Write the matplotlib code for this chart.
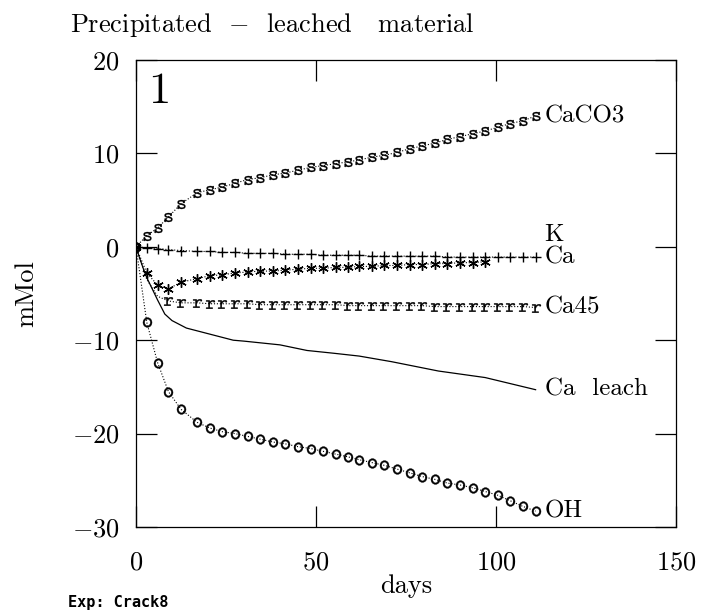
import numpy as np
import matplotlib
matplotlib.use('Agg')
import matplotlib.pyplot as plt

plt.rcParams['font.family'] = 'serif'
plt.rcParams['font.serif'] = ['cmr10']
plt.rcParams['mathtext.fontset'] = 'cm'
plt.rcParams['axes.formatter.use_mathtext'] = True

# sampling days shared by the marker series
days = [0, 3, 6, 9, 12.5, 17, 20.5, 24, 27.5, 31, 34.5, 38, 41.5, 45, 48.5,
        52, 55.5, 59, 62, 65.5, 69, 72.5, 76, 79.5, 83, 86.5, 90, 93.5, 97,
        100.5, 104, 107.5, 111]

caco3 = [0, 1.2, 2.0, 3.2, 4.6, 5.8, 6.1, 6.4, 6.8, 7.2, 7.4, 7.7, 7.9, 8.2,
         8.5, 8.7, 8.9, 9.1, 9.3, 9.6, 9.8, 10.1, 10.5, 10.8, 11.1, 11.5,
         11.8, 12.1, 12.4, 12.8, 13.2, 13.5, 14.0]

ca_plus = [0, -0.1, -0.2, -0.3, -0.4, -0.5, -0.5, -0.6, -0.6, -0.7, -0.7,
           -0.7, -0.8, -0.8, -0.8, -0.9, -0.9, -0.9, -0.9, -1.0, -1.0, -1.0,
           -1.0, -1.0, -1.0, -1.1, -1.1, -1.1, -1.1, -1.1, -1.1, -1.1, -1.1]

k_star = [0, -2.8, -4.1, -4.5, -3.8, -3.4, -3.1, -3.0, -2.8, -2.7, -2.6,
          -2.6, -2.5, -2.4, -2.3, -2.3, -2.2, -2.2, -2.1, -2.1, -2.0, -2.0,
          -1.9, -1.9, -1.8, -1.8, -1.7, -1.7, -1.6]

ca45 = [0, -3.5, -5.3, -5.8, -6.0, -6.0, -6.1, -6.1, -6.1, -6.1, -6.2, -6.2,
        -6.2, -6.2, -6.2, -6.2, -6.2, -6.3, -6.3, -6.3, -6.3, -6.3, -6.3,
        -6.3, -6.4, -6.4, -6.4, -6.4, -6.4, -6.4, -6.4, -6.4, -6.5]

oh = [0, -8.1, -12.4, -15.5, -17.4, -18.8, -19.4, -19.8, -20.0, -20.3, -20.6,
      -20.9, -21.1, -21.4, -21.6, -21.9, -22.2, -22.5, -22.8, -23.1, -23.4,
      -23.8, -24.2, -24.6, -24.9, -25.3, -25.5, -25.8, -26.2, -26.6, -27.2,
      -27.8, -28.3]

leach_days = [0, 1, 2, 3, 4, 5, 6, 8, 10, 14, 20, 27, 30, 40, 47.5, 55, 62,
              71, 84, 97, 111]
ca_leach = [0, -1.2, -2.3, -3.3, -4.1, -4.9, -5.7, -7.2, -7.9, -8.7, -9.3,
            -10.0, -10.1, -10.5, -11.1, -11.4, -11.7, -12.3, -13.3, -14.0,
            -15.3]

x_ticks = [0, 50, 100, 150]
y_ticks = [-30, -20, -10, 0, 10, 20]

fig = plt.figure(figsize=(7.07, 6.15), dpi=100)
ax = fig.add_axes([136 / 707, 88 / 615, 540 / 707, 467 / 615])

line_kw = dict(color='black', linestyle=':', linewidth=0.8)
ax.plot(days, caco3, marker=r'$\mathtt{s}$', markersize=6.5,
        markeredgewidth=0.2, **line_kw)
ax.plot(days, ca_plus, marker='+', markersize=7, markeredgewidth=1.0, **line_kw)
ax.plot(days[:len(k_star)], k_star, marker=(6, 2, 0), markersize=7.5,
        markeredgewidth=1.0, **line_kw)
ax.plot(days, ca45, marker=r'$\mathtt{r}$', markersize=6.5,
        markeredgewidth=0.2, markevery=slice(3, None), **line_kw)
ax.plot(days, oh, marker=r'$\mathtt{o}$', markersize=7,
        markeredgewidth=0.3, **line_kw)
ax.plot(leach_days, ca_leach, color='black', linewidth=0.9)

# end-of-curve labels
lab_x = 113.5
lab_kw = dict(fontsize=18, va='center', ha='left')
ax.text(lab_x, caco3[-1], 'CaCO3', **lab_kw)
ax.text(lab_x, ca_plus[-1] + 2.4, 'K', **lab_kw)
ax.text(lab_x, ca_plus[-1], 'Ca', **lab_kw)
ax.text(lab_x, ca45[-1], 'Ca45', **lab_kw)
ax.text(lab_x, ca_leach[-1], 'Ca  leach', **lab_kw)
ax.text(lab_x, oh[-1], 'OH', **lab_kw)

ax.text(0.022, 0.975, '1', transform=ax.transAxes, fontsize=32, va='top')

ax.set_xlim(0, 150)
ax.set_ylim(-30, 20)
ax.set_xticks(x_ticks)
ax.set_yticks(y_ticks)
ax.tick_params(direction='in', length=15, width=0.9, top=True, right=True,
               labelsize=19)
ax.tick_params(axis='x', pad=17)
ax.tick_params(axis='y', pad=12)
for s in ax.spines.values():
    s.set_linewidth(0.9)

ax.set_xlabel('days', fontsize=19, labelpad=0)
ax.set_ylabel('mMol', fontsize=19, labelpad=24)

fig.text(70 / 707, 1 - 32 / 615, r'Precipitated  $-$  leached   material',
         fontsize=19, va='baseline', ha='left')
fig.text(68 / 707, 1 - 603 / 615, 'Exp: Crack8', fontsize=11,
         family='DejaVu Sans Mono', fontweight='bold', va='center')

fig.savefig('out.png', dpi=100)
